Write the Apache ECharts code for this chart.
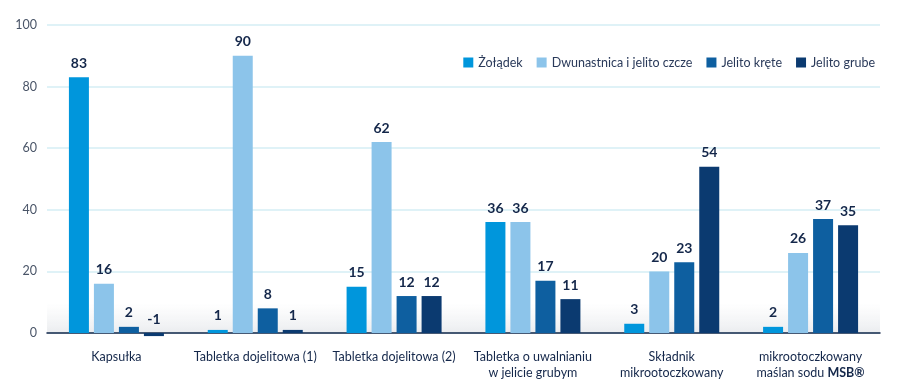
<!DOCTYPE html>
<html>
<head>
<meta charset="utf-8">
<script src="https://cdn.jsdelivr.net/npm/echarts@6/dist/echarts.min.js"></script>
<style>
  html, body { margin: 0; padding: 0; background: #fff; }
  #chart { width: 900px; height: 392px; }
</style>
</head>
<body>
<div id="chart"></div>
<script>
// kategorie i dane
var categories = [
  'Kapsułka',
  'Tabletka dojelitowa (1)',
  'Tabletka dojelitowa (2)',
  'Tabletka o uwalnianiu\nw jelicie grubym',
  'Składnik\nmikrootoczkowany',
  'mikrootoczkowany\nmaślan sodu {b|MSB®}'
];
var seriesNames = ['Żołądek', 'Dwunastnica i jelito czcze', 'Jelito kręte', 'Jelito grube'];
var zoladek = [83, 1, 15, 36, 3, 2];
var dwunastnica = [16, 90, 62, 36, 20, 26];
var jelitoKrete = [2, 8, 12, 17, 23, 37];
var jelitoGrube = [-1, 1, 12, 11, 54, 35];
var yTicks = [0, 20, 40, 60, 80, 100];

var colors = ['#0096dc', '#8cc4ea', '#0e5fa0', '#0b3a70'];
var font = 'Lato, "Noto Sans", sans-serif';

var chart = echarts.init(document.getElementById('chart'));

function makeSeries(name, data) {
  return {
    name: name,
    type: 'bar',
    data: data,
    barWidth: 20,
    barGap: '25%',
    clip: false,
    z: 3,
    label: {
      show: true,
      position: 'top',
      distance: 7,
      color: '#14274a',
      fontWeight: 'bold',
      fontSize: 14,
      fontFamily: font
    }
  };
}

var option = {
  color: colors,
  animation: false,
  grid: { left: 47, right: 20, top: 25, bottom: 59 },
  // lekki cień nad osią
  graphic: [{
    type: 'rect',
    z: 0,
    shape: { x: 47, y: 303, width: 833, height: 30 },
    style: {
      fill: new echarts.graphic.LinearGradient(0, 0, 0, 1, [
        { offset: 0, color: 'rgba(220,224,228,0)' },
        { offset: 1, color: 'rgba(210,214,220,0.45)' }
      ])
    }
  }],
  legend: {
    right: 20,
    top: 51,
    itemWidth: 10,
    itemHeight: 10,
    itemGap: 14,
    icon: 'rect',
    textStyle: { color: '#2a3a5a', fontSize: 12.5, fontFamily: font },
    data: seriesNames
  },
  xAxis: {
    type: 'category',
    data: categories,
    axisLine: { lineStyle: { color: '#14274a', width: 1.5 } },
    axisTick: { show: false },
    axisLabel: {
      color: '#14274a',
      fontSize: 12.5,
      fontFamily: font,
      margin: 16,
      lineHeight: 16,
      interval: 0,
      rich: { b: { fontWeight: 'bold', fontSize: 12.5, color: '#14274a', fontFamily: font } }
    }
  },
  yAxis: {
    type: 'value',
    min: yTicks[0],
    max: yTicks[yTicks.length - 1],
    interval: 20,
    axisLine: { show: false },
    axisTick: { show: false },
    axisLabel: { color: '#4a5568', fontSize: 12.5, fontFamily: font, margin: 10 },
    splitLine: { lineStyle: { color: '#d4eef5', width: 1.5 } }
  },
  series: [
    makeSeries(seriesNames[0], zoladek),
    makeSeries(seriesNames[1], dwunastnica),
    makeSeries(seriesNames[2], jelitoKrete),
    makeSeries(seriesNames[3], jelitoGrube)
  ]
};

chart.setOption(option);
</script>
</body>
</html>
